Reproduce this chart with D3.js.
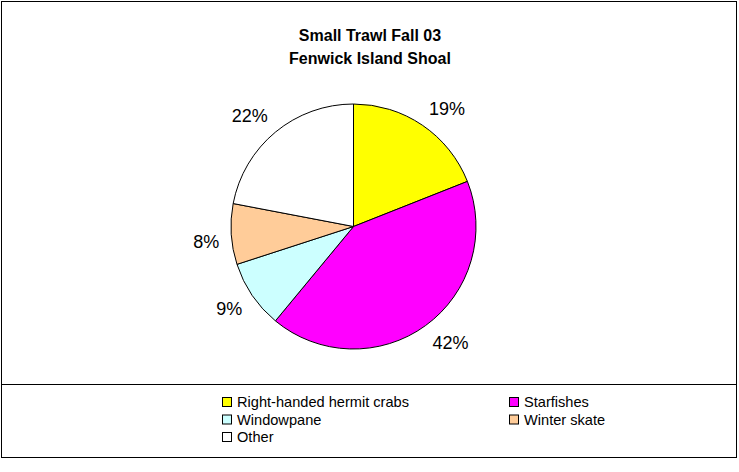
<!DOCTYPE html>
<meta charset="utf-8">
<script src="https://d3js.org/d3.v7.min.js"></script>
<style>
  body { margin: 0; background: #fff; }
  text { font-family: "Liberation Sans", Arial, sans-serif; }
</style>
<div id="chart"></div>
<script>

// data
var categories = ["Right-handed hermit crabs", "Starfishes", "Windowpane", "Winter skate", "Other"]
var shares = [19, 42, 9, 8, 22]
var colors = ["#ffff00", "#ff00ff", "#ccffff", "#ffcc99", "#ffffff"]
var titleLines = ["Small Trawl Fall 03", "Fenwick Island Shoal"]

var width = 739
var height = 472

var svg = d3.select("#chart")
  .append("svg")
    .attr("width", width)
    .attr("height", height)

// chart frame
svg.append("rect")
  .attr("x", 1.5).attr("y", 1.5)
  .attr("width", 735).attr("height", 456)
  .attr("fill", "#fff")
  .attr("stroke", "#000")

// legend frame
svg.append("rect")
  .attr("x", 1.5).attr("y", 384.5)
  .attr("width", 735).attr("height", 73)
  .attr("fill", "none")
  .attr("stroke", "#000")

// title
svg.append("g").selectAll("text")
  .data(titleLines)
  .enter().append("text")
    .attr("x", 370)
    .attr("y", function(d, i) { return 41 + i * 23 })
    .attr("text-anchor", "middle")
    .style("font-size", "16px")
    .style("font-weight", "bold")
    .text(function(d) { return d })

var cx = 353.5, cy = 226.5, radius = 122.5

var data = categories.map(function(c, i) { return {name: c, value: shares[i], color: colors[i]} })

var pie = d3.pie().sort(null).value(function(d) { return d.value })
var arc = d3.arc().innerRadius(0).outerRadius(radius)
var labelArc = d3.arc().innerRadius(radius + 12).outerRadius(radius + 12)

var g = svg.append("g").attr("transform", "translate(" + cx + "," + cy + ")")

var arcs = pie(data)

g.selectAll("path")
  .data(arcs)
  .enter().append("path")
    .attr("d", arc)
    .attr("fill", function(d) { return d.data.color })
    .attr("stroke", "#000")
    .attr("stroke-width", 1)

g.selectAll("text")
  .data(arcs)
  .enter().append("text")
    .attr("text-anchor", "middle")
    .attr("dy", "0.35em")
    .style("font-size", "18px")
    .text(function(d) { return d.data.value + "%" })
    .attr("transform", function(d) {
      var c = labelArc.centroid(d)
      var a = (d.startAngle + d.endAngle) / 2
      var w = this.getBBox().width
      // the label's nearest corner sits on the anchor point
      var x = c[0] + Math.sign(Math.sin(a)) * w / 2
      var y = c[1] - Math.sign(Math.cos(a)) * 7
      return "translate(" + x + "," + y + ")"
    })

// legend
var legend = svg.append("g").selectAll("g")
  .data(data)
  .enter().append("g")
    .attr("transform", function(d, i) {
      var col = i % 2, row = Math.floor(i / 2)
      return "translate(" + (222 + col * 287) + "," + (402 + row * 17.5) + ")"
    })

legend.append("rect")
  .attr("x", 0.5).attr("y", -4.5)
  .attr("width", 9).attr("height", 9)
  .attr("fill", function(d) { return d.color })
  .attr("stroke", "#000")

legend.append("text")
  .attr("x", 15)
  .attr("dy", "0.35em")
  .style("font-size", "14.6px")
  .text(function(d) { return d.name })

</script>
